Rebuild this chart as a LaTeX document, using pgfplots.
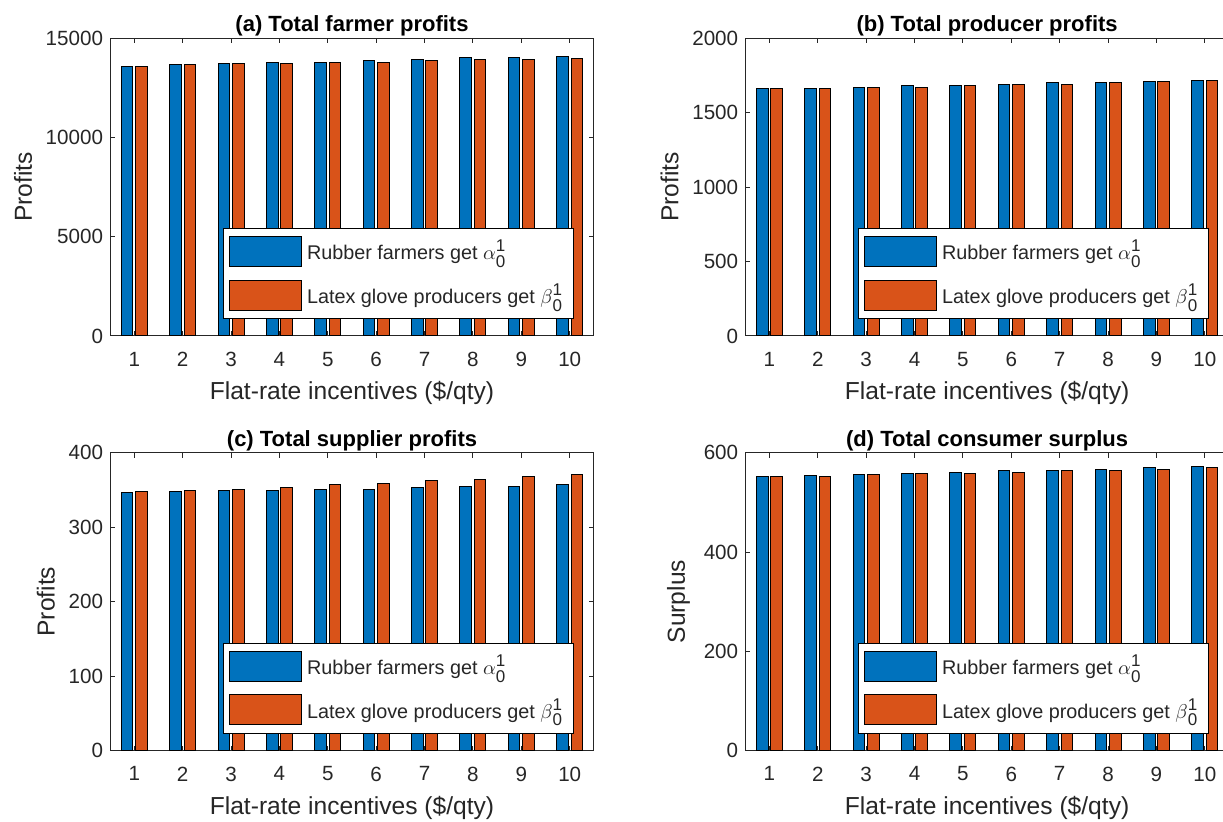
\documentclass[border=0pt]{standalone}
\usepackage{pgfplots}
\pgfplotsset{compat=1.18}
\usepackage{amsmath}
\usepackage{fontspec}
\setmainfont{Liberation Sans}
\definecolor{mblue}{RGB}{0,114,189}
\definecolor{morange}{RGB}{217,83,25}
\definecolor{axgray}{RGB}{38,38,38}
\newcommand{\subsup}[1]{\ensuremath{#1}\rlap{\raisebox{0.75ex}{\fontsize{8.5}{9}\selectfont 1}}\raisebox{-0.75ex}{\fontsize{8.5}{9}\selectfont 0}}

\pgfplotsset{
  myaxis/.style={
    width=241.9pt, height=148.9pt, scale only axis,
    anchor=south west,
    xmin=0.5, xmax=10.5, xtick={1,...,10},
    ymin=0,
    tick align=inside, major tick length=2.5pt,
    axis line style={axgray, line width=0.5pt},
    every tick/.style={axgray, line width=0.5pt},
    tick label style={font=\fontsize{10.3}{12}\selectfont, text=axgray},
    xticklabel style={yshift=-4.5pt},
    /pgf/number format/assume math mode=true,
    /pgf/number format/1000 sep={},
    scaled y ticks=false,
    label style={font=\fontsize{12.3}{14}\selectfont, text=axgray},
    xlabel style={yshift=-0.5pt},
    title style={font=\bfseries\fontsize{11}{13}\selectfont, text=black, yshift=-8.7pt},
    xlabel={Flat-rate incentives (\$/qty)},
    legend style={at={(0.958,0.058)}, anchor=south east, draw=black, fill=white,
      font=\fontsize{9.9}{12}\selectfont, text=axgray,
      inner xsep=3pt, inner ysep=3.5pt, nodes={inner sep=2.5pt}, row sep=5.5pt},
    legend cell align=left,
  },
  mybar/.style={ybar, bar width=0.24, draw=black, line width=0.5pt, fill=#1,
    legend image code/.code={\draw[##1] (0pt,-7.5pt) rectangle (36pt,7.5pt);}},
}

\begin{document}
\begin{tikzpicture}
% (a)
\begin{axis}[myaxis, at={(55.05pt,243pt)}, ymax=15000, ytick={0,5000,10000,15000},
  title={(a) Total farmer profits}, ylabel={Profits}]
\addplot[mybar=mblue, bar shift=-0.148] coordinates {(1,13570) (2,13650) (3,13720) (4,13790) (5,13790) (6,13860) (7,13920) (8,14010) (9,14010) (10,14075)};
\addplot[mybar=morange, bar shift=0.148] coordinates {(1,13550) (2,13650) (3,13720) (4,13720) (5,13790) (6,13790) (7,13860) (8,13920) (9,13920) (10,13990)};
\legend{Rubber farmers get \subsup{\alpha}, Latex glove producers get \subsup{\beta}}
\end{axis}
% (b)
\begin{axis}[myaxis, at={(372.6pt,243pt)}, ymax=2000, ytick={0,500,1000,1500,2000},
  title={(b) Total producer profits}, ylabel={Profits}]
\addplot[mybar=mblue, bar shift=-0.148] coordinates {(1,1659) (2,1659) (3,1670) (4,1682) (5,1682) (6,1691) (7,1700) (8,1700) (9,1709) (10,1718)};
\addplot[mybar=morange, bar shift=0.148] coordinates {(1,1659) (2,1659) (3,1670) (4,1670) (5,1682) (6,1691) (7,1691) (8,1700) (9,1709) (10,1718)};
\legend{Rubber farmers get \subsup{\alpha}, Latex glove producers get \subsup{\beta}}
\end{axis}
% (c)
\begin{axis}[myaxis, at={(55.05pt,35.65pt)}, height=149pt, ymax=400, ytick={0,100,200,300,400},
  title={(c) Total supplier profits}, ylabel={Profits}]
\addplot[mybar=mblue, bar shift=-0.148] coordinates {(1,346) (2,347.5) (3,349.3) (4,349.3) (5,351.1) (6,351.1) (7,352.9) (8,355.2) (9,355.2) (10,356.9)};
\addplot[mybar=morange, bar shift=0.148] coordinates {(1,347.5) (2,349.3) (3,351.1) (4,352.9) (5,356.9) (6,358.7) (7,362.3) (8,364.6) (9,368.2) (10,370.4)};
\legend{Rubber farmers get \subsup{\alpha}, Latex glove producers get \subsup{\beta}}
\end{axis}
% (d)
\begin{axis}[myaxis, at={(372.6pt,35.65pt)}, height=149pt, ymax=600, ytick={0,200,400,600},
  title={(d) Total consumer surplus}, ylabel={Surplus}]
\addplot[mybar=mblue, bar shift=-0.148] coordinates {(1,551.6) (2,554.9) (3,555.6) (4,558.3) (5,561) (6,563.7) (7,563.7) (8,567) (9,569.7) (10,572.4)};
\addplot[mybar=morange, bar shift=0.148] coordinates {(1,551.6) (2,552.2) (3,555.6) (4,558.3) (5,558.3) (6,561) (7,563.7) (8,563.7) (9,567) (10,569.7)};
\legend{Rubber farmers get \subsup{\alpha}, Latex glove producers get \subsup{\beta}}
\end{axis}
\pgfresetboundingbox
\useasboundingbox (0pt,0pt) rectangle (611.5pt,411pt);
\end{tikzpicture}
\end{document}
